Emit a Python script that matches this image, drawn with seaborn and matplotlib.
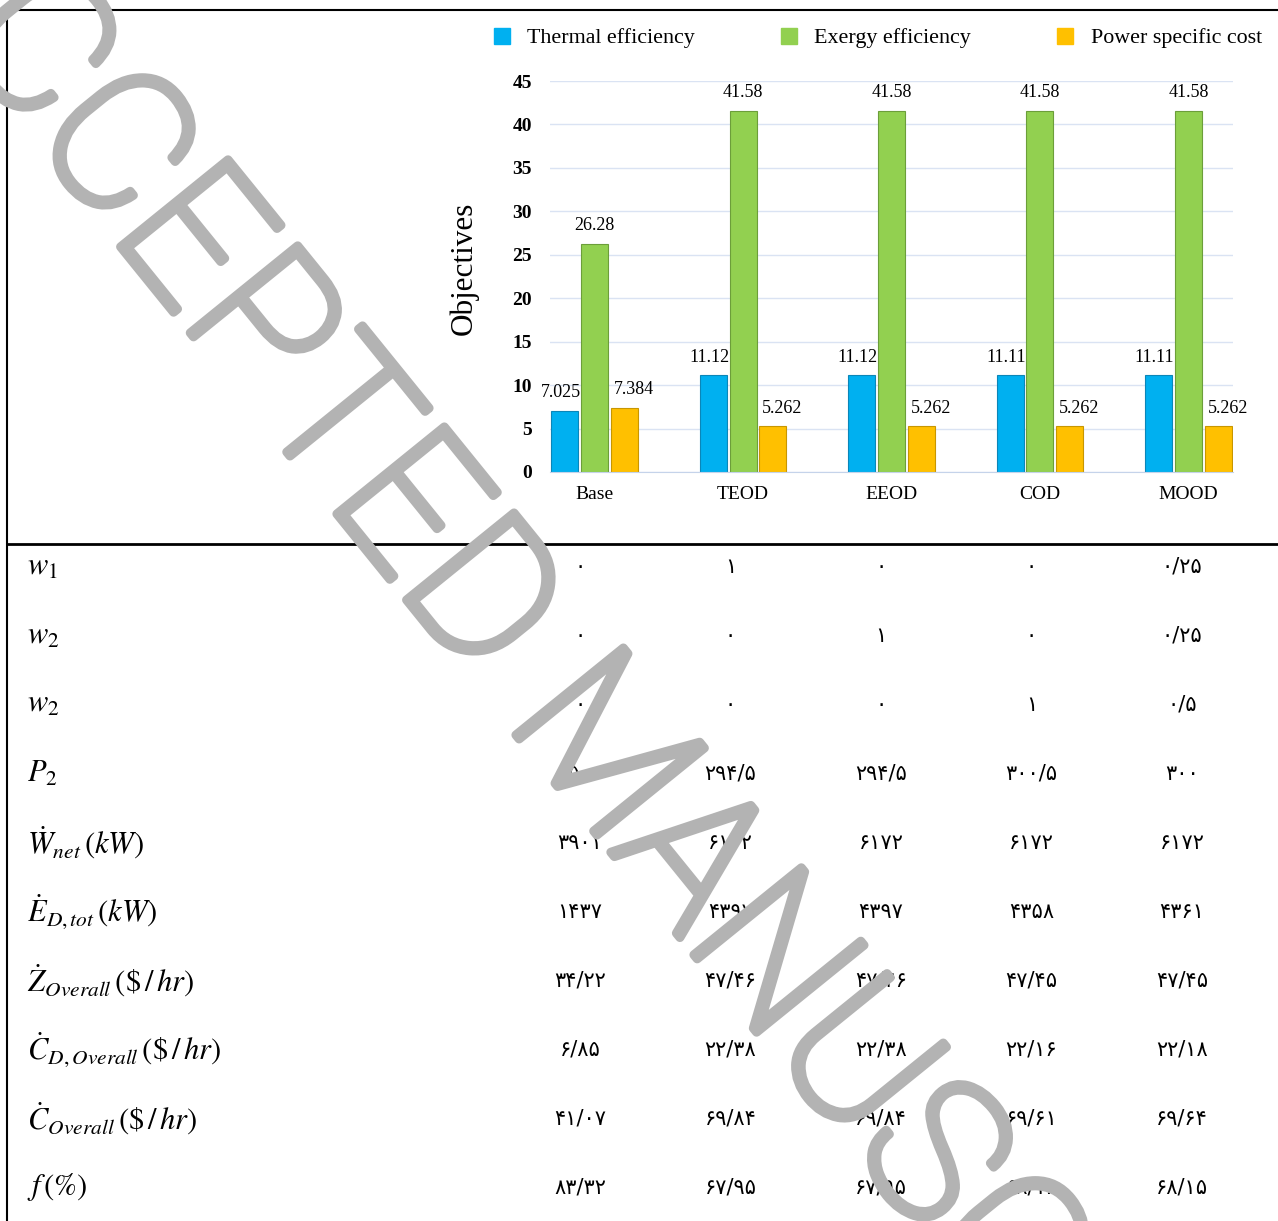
import numpy as np
import pandas as pd
import seaborn as sns
import matplotlib.pyplot as plt
import matplotlib.transforms as mtransforms
import matplotlib.patheffects as pe
from matplotlib.lines import Line2D

plt.rcParams.update({
    "font.family": "Liberation Serif",
    "mathtext.fontset": "stix",
    "font.size": 14})

# chart data
cases = ['Base', 'TEOD', 'EEOD', 'COD', 'MOOD']
objectives = ['Thermal efficiency', 'Exergy efficiency', 'Power specific cost']
thermal_eff = [7.025, 11.12, 11.12, 11.11, 11.11]
exergy_eff = [26.28, 41.58, 41.58, 41.58, 41.58]
power_cost = [7.384, 5.262, 5.262, 5.262, 5.262]
y_ticks = [0, 5, 10, 15, 20, 25, 30, 35, 40, 45]

# table data (one list per row, columns follow cases)
row_labels = [r'$w_1$', r'$w_2$', r'$w_2$', r'$P_2$',
              r'$\dot{W}_{net}\,(kW)$', r'$\dot{E}_{D,tot}\,(kW)$',
              r'$\dot{Z}_{Overall}\,(\$\,/\,hr)$',
              r'$\dot{C}_{D,Overall}\,(\$\,/\,hr)$',
              r'$\dot{C}_{Overall}\,(\$\,/\,hr)$', r'$f\,(\%)$']
w1 = [0, 1, 0, 0, 0.25]
w2 = [0, 0, 1, 0, 0.25]
w3 = [0, 0, 0, 1, 0.5]
p2 = [1500, 294.5, 294.5, 300.5, 300]
w_net = [3901, 6172, 6172, 6172, 6172]
ed_tot = [1437, 4397, 4397, 4358, 4361]
z_overall = [34.22, 47.46, 47.46, 47.45, 47.45]
cd_overall = [6.85, 22.38, 22.38, 22.16, 22.18]
c_overall = [41.07, 69.84, 69.84, 69.61, 69.64]
f_pct = [83.32, 67.95, 67.95, 68.16, 68.15]
table_rows = [w1, w2, w3, p2, w_net, ed_tot, z_overall, cd_overall, c_overall, f_pct]

palette = {'Thermal efficiency': '#00b0f0',
           'Exergy efficiency': '#92d050',
           'Power specific cost': '#ffc000'}
edges = {'Thermal efficiency': '#0b86b8',
         'Exergy efficiency': '#6c9e3a',
         'Power specific cost': '#c89600'}
label_dx = {'Thermal efficiency': -3, 'Exergy efficiency': 0, 'Power specific cost': 7}

persian = str.maketrans('0123456789.', '۰۱۲۳۴۵۶۷۸۹/')

df = pd.DataFrame({
    'case': np.tile(cases, 3),
    'objective': np.repeat(objectives, len(cases)),
    'value': thermal_eff + exergy_eff + power_cost})
series = dict(zip(objectives, [thermal_eff, exergy_eff, power_cost]))

W, H = 1278, 1221
fig = plt.figure(figsize=(W / 100, H / 100), dpi=100)

# bar chart
ax = fig.add_axes([550 / W, 1 - 472 / H, 683 / W, 391 / H])
sns.barplot(data=df, x='case', y='value', hue='objective', order=cases,
            hue_order=objectives, palette=palette, width=0.6, gap=0.09,
            saturation=1, legend=False, ax=ax)
for obj, cont in zip(objectives, ax.containers):
    for bar, val in zip(cont, series[obj]):
        bar.set_edgecolor(edges[obj])
        bar.set_linewidth(0.8)
        ax.annotate(f'{val:g}', (bar.get_x() + bar.get_width() / 2, bar.get_height()),
                    xytext=(label_dx[obj], 13), textcoords='offset points',
                    ha='center', va='center', fontsize=13)

ax.set_xlim(-0.3, 4.3)
ax.set_ylim(0, 45)
ax.set_yticks(y_ticks)
ax.set_xlabel('')
ax.set_ylabel('Objectives', fontsize=22.5)
ax.yaxis.set_label_coords(-0.105, 0.522)
ax.grid(axis='y', color='#dae3f3', lw=1)
ax.set_axisbelow(True)
for s in ['top', 'right', 'left']:
    ax.spines[s].set_visible(False)
ax.spines['bottom'].set_color('#c5d3ea')
ax.tick_params(axis='x', length=0, pad=10, labelsize=14)
ax.tick_params(axis='y', length=0, pad=13, labelsize=14)
plt.setp(ax.get_yticklabels(), fontweight='bold')

handles = [Line2D([0], [0], marker='s', ls='none', markersize=12,
                  markerfacecolor=palette[o], markeredgecolor=palette[o])
           for o in objectives]
fig.legend(handles, objectives, loc='center left', bbox_to_anchor=(482 / W, 1 - 38 / H),
           ncol=3, frameon=False, borderpad=0, handlelength=0.8, handletextpad=0.75,
           columnspacing=3.9, fontsize=15.8)

# table below the chart
ax_t = fig.add_axes([0, 0, 1, 1 - 544 / H])
ax_t.axis('off')
ax_t.set_xlim(-580 / 150.5, (W - 580) / 150.5)
ax_t.set_ylim((H - 567) / 68.9, -(567 - 544) / 68.9)
lab_trans = mtransforms.blended_transform_factory(ax_t.transAxes, ax_t.transData)
for i, (lab, row) in enumerate(zip(row_labels, table_rows)):
    ax_t.text(27 / W, i, lab, transform=lab_trans, ha='left', va='center', fontsize=22)
    for j, v in enumerate(row):
        ax_t.text(j, i, f'{v:g}'.translate(persian), ha='center', va='center',
                  fontsize=15, family=['DejaVu Sans'])

# frame lines
for xs, ys, lw in [([7 / W, 1], [1 - 10 / H, 1 - 10 / H], 1.5),
                   ([7 / W, 7 / W], [0, 1 - 10 / H], 1.5),
                   ([7 / W, 1], [1 - 544 / H, 1 - 544 / H], 2.0)]:
    fig.add_artist(Line2D(xs, ys, transform=fig.transFigure, color='black', lw=lw))

# watermark (thin face, thickened with a stroke)
fig.text(-123 / W, 1 + 54 / H, 'ACCEPTED MANUSCRIPT', rotation=-51,
         rotation_mode='anchor', ha='left', va='baseline', fontsize=140,
         color='#b3b3b3', family=['Roboto', 'DejaVu Sans'], fontweight='light',
         zorder=10,
         path_effects=[pe.withStroke(linewidth=6.5, foreground='#b3b3b3')])

plt.savefig('out.png', dpi=100)
plt.close()
